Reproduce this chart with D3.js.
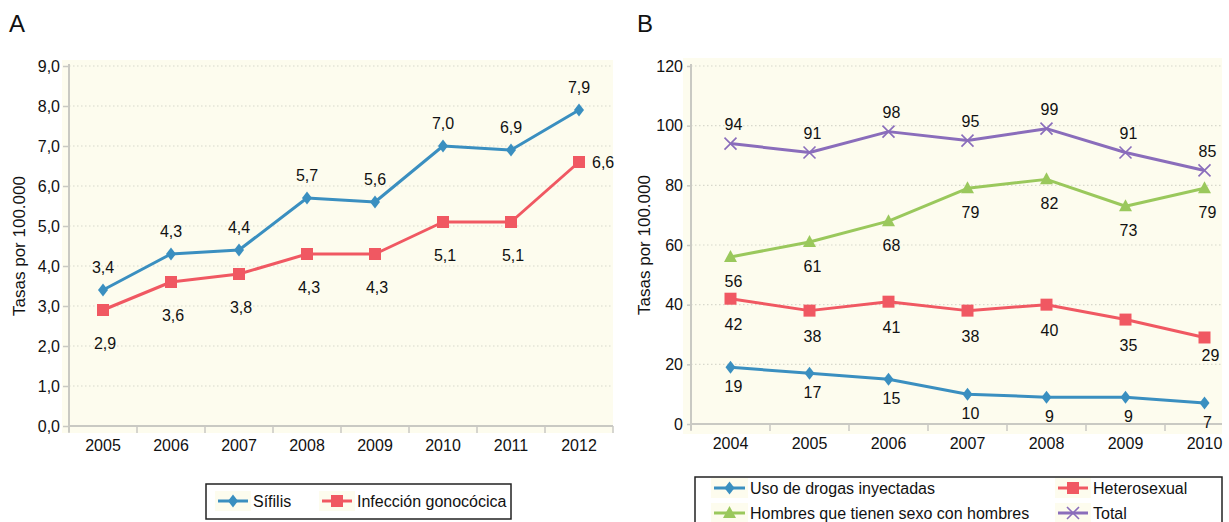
<!DOCTYPE html>
<html>
<head>
<meta charset="utf-8">
<script src="https://cdn.jsdelivr.net/npm/d3@7"></script>
<style>
  body { margin: 0; background: #fff; }
  svg { display: block; font-family: "Liberation Sans", Arial, sans-serif; }
</style>
</head>
<body>
<div id="chart"></div>
<script>
// panel A data
var yearsA = ['2005', '2006', '2007', '2008', '2009', '2010', '2011', '2012'];
var sifilis = [3.4, 4.3, 4.4, 5.7, 5.6, 7.0, 6.9, 7.9];
var gonococica = [2.9, 3.6, 3.8, 4.3, 4.3, 5.1, 5.1, 6.6];
var ticksA = [0, 1, 2, 3, 4, 5, 6, 7, 8, 9];

// panel B data
var yearsB = ['2004', '2005', '2006', '2007', '2008', '2009', '2010'];
var drogas = [19, 17, 15, 10, 9, 9, 7];
var hetero = [42, 38, 41, 38, 40, 35, 29];
var hsh = [56, 61, 68, 79, 82, 73, 79];
var total = [94, 91, 98, 95, 99, 91, 85];
var ticksB = [0, 20, 40, 60, 80, 100, 120];

var W = 1229, H = 522;
var cream = '#fdfcee';
var comma = d3.formatLocale({decimal: ',', thousands: '.', grouping: [3], currency: ['', '']});
var f1 = comma.format('.1f');

// marker shapes
var diamond = { draw: function(ctx, size) {
  var h = 6.5, w = 5;
  ctx.moveTo(0, -h); ctx.lineTo(w, 0); ctx.lineTo(0, h); ctx.lineTo(-w, 0); ctx.closePath();
}};
var square = { draw: function(ctx, size) { ctx.rect(-6, -6, 12, 12); } };
var triangle = { draw: function(ctx, size) {
  ctx.moveTo(0, -7); ctx.lineTo(6.5, 5); ctx.lineTo(-6.5, 5); ctx.closePath();
}};
var cross = { draw: function(ctx, size) {
  ctx.moveTo(-6, -6); ctx.lineTo(6, 6); ctx.moveTo(6, -6); ctx.lineTo(-6, 6);
}};

var svg = d3.select('#chart').append('svg')
  .attr('width', W)
  .attr('height', H);

function drawMarker(g, shape, color, x, y) {
  var p = g.append('path')
    .attr('d', d3.symbol().type(shape)())
    .attr('transform', 'translate(' + x + ',' + y + ')');
  if (shape === cross) p.attr('fill', 'none').attr('stroke', color).attr('stroke-width', 1.6);
  else p.attr('fill', color);
}

function panel(opt) {
  var x = opt.x, y = opt.y;
  var g = svg.append('g');

  g.append('rect')
    .attr('x', opt.bg[0]).attr('y', opt.bg[1])
    .attr('width', opt.bg[2] - opt.bg[0]).attr('height', opt.bg[3] - opt.bg[1])
    .attr('fill', cream);

  // gridlines
  g.selectAll('.grid').data(opt.ticks).enter().append('line')
    .attr('x1', x.range()[0]).attr('x2', opt.right)
    .attr('y1', function(d){ return y(d); }).attr('y2', function(d){ return y(d); })
    .attr('stroke', '#d8d8cc').attr('stroke-width', 1.2)
    .attr('stroke-dasharray', '1.5,2.5');

  // y axis
  var ya = g.append('g')
    .attr('transform', 'translate(' + x.range()[0] + ',0)')
    .call(d3.axisLeft(y).tickValues(opt.ticks).tickSize(opt.tickLen).tickPadding(opt.pad).tickFormat(opt.yfmt));
  ya.select('.domain').remove();
  ya.append('line')
    .attr('x1', 0).attr('x2', 0)
    .attr('y1', y.range()[1] - 2).attr('y2', y.range()[0] + 6)
    .attr('stroke', '#c9c9c3').attr('stroke-width', 2);
  ya.selectAll('.tick line').attr('stroke', '#c9c9c3').attr('stroke-width', 1.5);
  ya.selectAll('.tick text').attr('font-size', 16).attr('fill', '#111');

  // x axis
  var base = y.range()[0];
  g.append('line')
    .attr('x1', x.range()[0]).attr('x2', opt.right)
    .attr('y1', base).attr('y2', base)
    .attr('stroke', '#c9c9c3').attr('stroke-width', 2);
  var bounds = x.domain().map(function(d){ return x(d); });
  bounds.push(x.range()[1]);
  g.selectAll('.xt').data(bounds.filter(function(d){ return d <= opt.right; })).enter().append('line')
    .attr('x1', function(d){ return d; }).attr('x2', function(d){ return d; })
    .attr('y1', base).attr('y2', base + 7)
    .attr('stroke', '#c9c9c3').attr('stroke-width', 1.5);
  g.selectAll('.xl').data(x.domain()).enter().append('text')
    .attr('x', function(d){ return x(d) + x.bandwidth() / 2; })
    .attr('y', base + 25)
    .attr('text-anchor', 'middle')
    .attr('font-size', 16).attr('fill', '#111')
    .text(function(d){ return d; });

  // y title
  g.append('text')
    .attr('transform', 'translate(' + opt.titleX + ',' + (y(opt.ticks[opt.ticks.length - 1]) + y(0)) / 2 + ') rotate(-90)')
    .attr('text-anchor', 'middle')
    .attr('dy', '0.35em')
    .attr('font-size', 17).attr('fill', '#111')
    .text('Tasas por 100.000');

  // panel letter
  g.append('text')
    .attr('x', opt.letterX).attr('y', 32)
    .attr('font-size', 24).attr('fill', '#111')
    .text(opt.letter);

  // series
  opt.series.forEach(function(s) {
    var line = d3.line()
      .x(function(d, i){ return x(x.domain()[i]) + x.bandwidth() / 2; })
      .y(function(d){ return y(d); });
    g.append('path')
      .datum(s.values)
      .attr('d', line)
      .attr('fill', 'none')
      .attr('stroke', s.color)
      .attr('stroke-width', 3)
      .attr('stroke-linejoin', 'round');
    s.values.forEach(function(v, i) {
      var cx = x(x.domain()[i]) + x.bandwidth() / 2;
      drawMarker(g, s.shape, s.color, cx, y(v));
      var off = s.off(i);
      g.append('text')
        .attr('x', cx + off[0])
        .attr('y', y(v) + off[1])
        .attr('dy', '0.35em')
        .attr('text-anchor', off[2] || 'middle')
        .attr('font-size', 16).attr('fill', '#111')
        .text(opt.fmt(v));
    });
  });
}

function legendItem(g, s, x0, x1, ty) {
  g.append('rect').attr('x', x0 - 3).attr('y', ty - 10).attr('width', x1 - x0 + 6).attr('height', 20).attr('fill', cream);
  g.append('line').attr('x1', x0).attr('x2', x1).attr('y1', ty).attr('y2', ty)
    .attr('stroke', s.color).attr('stroke-width', 3);
  drawMarker(g, s.shape, s.color, (x0 + x1) / 2, ty);
  g.append('text').attr('x', x1 + 5).attr('y', ty).attr('dy', '0.35em')
    .attr('font-size', 16).attr('fill', '#111').text(s.name);
}

var seriesA = [
  { name: 'Sífilis', values: sifilis, color: '#3a8fc0', shape: diamond,
    off: function(i){ return [0, -23]; } },
  { name: 'Infección gonocócica', values: gonococica, color: '#f05862', shape: square,
    off: function(i){ return i === 7 ? [13, 0, 'start'] : [2, 33]; } }
];

var seriesB = [
  { name: 'Uso de drogas inyectadas', values: drogas, color: '#3a8fc0', shape: diamond,
    off: function(i){ return [3, 19]; } },
  { name: 'Heterosexual', values: hetero, color: '#f05862', shape: square,
    off: function(i){ return i === 6 ? [6, 18] : [3, 26]; } },
  { name: 'Hombres que tienen sexo con hombres', values: hsh, color: '#9ac85c', shape: triangle,
    off: function(i){ return [3, 24]; } },
  { name: 'Total', values: total, color: '#8a6dbb', shape: cross,
    off: function(i){ return [3, -19]; } }
];

panel({
  x: d3.scaleBand().domain(yearsA).range([69, 613]),
  y: d3.scaleLinear().domain([0, 9]).range([426, 66]),
  ticks: ticksA, right: 613, bg: [62, 60, 613, 433],
  tickLen: 6, pad: 3, yfmt: f1, fmt: f1,
  titleX: 19, letterX: 9, letter: 'A', series: seriesA
});

panel({
  x: d3.scaleBand().domain(yearsB).range([691, 1244]),
  y: d3.scaleLinear().domain([0, 120]).range([424, 66]),
  ticks: ticksB, right: 1222, bg: [683, 58, 1222, 434],
  tickLen: 4, pad: 4, yfmt: d3.format('d'), fmt: function(v){ return d3.format('d')(v); },
  titleX: 644, letterX: 637, letter: 'B', series: seriesB
});

// legends
var lg = svg.append('g');
lg.append('rect').attr('x', 206).attr('y', 484).attr('width', 305).attr('height', 35)
  .attr('fill', '#fff').attr('stroke', '#222').attr('stroke-width', 1.5);
legendItem(lg, seriesA[0], 218, 248, 501);
legendItem(lg, seriesA[1], 322, 352, 501);

lg.append('rect').attr('x', 695).attr('y', 477).attr('width', 527).attr('height', 70)
  .attr('fill', '#fff').attr('stroke', '#222').attr('stroke-width', 1.5);
legendItem(lg, seriesB[0], 714, 745, 488);
legendItem(lg, seriesB[1], 1058, 1088, 488);
legendItem(lg, seriesB[2], 714, 745, 513);
legendItem(lg, seriesB[3], 1058, 1088, 513);
</script>
</body>
</html>
